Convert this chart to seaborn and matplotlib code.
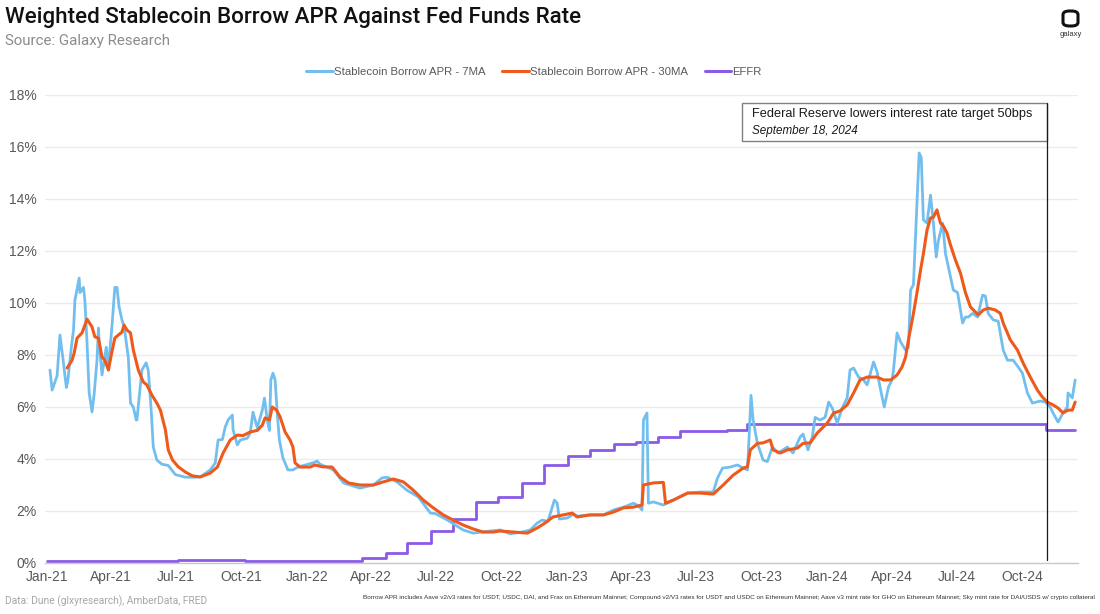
import numpy as np
import pandas as pd
import matplotlib
matplotlib.use("Agg")
import matplotlib.pyplot as plt
import matplotlib.dates as mdates
from matplotlib.ticker import FuncFormatter
from matplotlib.patches import Rectangle, FancyBboxPatch
from matplotlib.lines import Line2D
import seaborn as sns

# ---------------- data (day offsets from 2021-01-01, values in %) ----------------
blue_day = [4, 7, 11, 14, 18, 22, 27, 29, 34, 37, 39, 45, 46, 51, 53, 56, 59, 63, 66, 70,
            72, 73, 77, 83, 86, 91, 95, 98, 101, 105, 108, 114, 117, 121, 125, 126, 133, 139, 142, 146,
            149, 154, 161, 170, 180, 194, 208, 215, 229, 236, 240, 246, 250, 254, 260, 261, 267, 271, 281, 285,
            289, 295, 302, 305, 309, 312, 314, 317, 320, 323, 326, 331, 338, 345, 352, 373, 379, 383, 402, 416,
            439, 458, 470, 477, 491, 505, 521, 538, 545, 562, 584, 598, 622, 636, 650, 668, 678, 688, 695, 703,
            709, 712, 716, 719, 730, 739, 744, 762, 781, 795, 809, 823, 830, 835, 837, 842, 844, 851, 865, 879,
            899, 917, 935, 941, 948, 959, 969, 977, 983, 986, 988, 991, 997, 1005, 1011, 1018, 1026, 1039, 1047, 1057,
            1061, 1068, 1074, 1078, 1085, 1092, 1097, 1102, 1109, 1116, 1123, 1127, 1132, 1139, 1146, 1151, 1160, 1165, 1170, 1175,
            1181, 1186, 1188, 1193, 1198, 1205, 1209, 1212, 1216, 1221, 1224, 1227, 1230, 1235, 1240, 1244, 1248, 1251, 1257, 1261,
            1268, 1272, 1278, 1285, 1289, 1293, 1299, 1306, 1313, 1317, 1321, 1328, 1335, 1342, 1348, 1356, 1363, 1369, 1376, 1383,
            1394, 1401, 1408, 1412, 1419, 1426, 1432, 1433, 1439, 1443]
blue_apr = [7.42, 6.65, 6.96, 7.2, 8.77, 7.9, 6.75, 7.0, 8.3, 8.96, 10.1, 10.96, 10.4, 10.6, 10.1, 8.46, 6.54, 5.81, 6.5, 7.8,
            9.04, 8.5, 7.23, 8.3, 7.54, 9.1, 10.6, 10.6, 9.85, 9.35, 9.1, 7.9, 6.15, 6.0, 5.5, 5.5, 7.42, 7.7, 7.4, 5.9,
            4.46, 3.96, 3.8, 3.75, 3.4, 3.3, 3.3, 3.31, 3.58, 3.85, 4.73, 4.75, 5.23, 5.5, 5.69, 5.12, 4.54, 4.73, 4.8, 5.0,
            5.8, 5.2, 5.88, 6.34, 5.5, 5.1, 7.04, 7.3, 7.04, 5.77, 4.73, 4.04, 3.58, 3.58, 3.69, 3.85, 3.92, 3.8, 3.58, 3.08,
            2.88, 3.0, 3.27, 3.3, 3.12, 2.8, 2.54, 1.92, 1.9, 1.65, 1.27, 1.15, 1.23, 1.27, 1.12, 1.2, 1.27, 1.54, 1.65, 1.6,
            2.15, 2.42, 2.3, 1.69, 1.73, 1.88, 1.8, 1.85, 1.85, 2.04, 2.15, 2.3, 2.2, 2.04, 5.5, 5.77, 2.3, 2.35, 2.23, 2.42,
            2.69, 2.73, 2.73, 3.27, 3.65, 3.69, 3.77, 3.65, 3.58, 5.23, 6.45, 5.5, 4.6, 3.96, 3.9, 4.46, 4.23, 4.46, 4.23, 4.85,
            4.96, 4.35, 4.85, 5.6, 5.5, 5.6, 6.19, 5.96, 5.38, 5.96, 6.35, 7.42, 7.5, 7.15, 7.04, 6.85, 7.73, 7.35, 6.65, 6.0,
            6.77, 7.04, 7.42, 8.85, 8.5, 8.19, 8.3, 10.5, 10.7, 13.85, 15.77, 15.6, 13.2, 13.07, 14.15, 13.07, 11.77, 12.4, 13.07, 11.9,
            11.0, 10.5, 10.4, 9.23, 9.46, 9.46, 9.6, 9.46, 10.3, 10.27, 9.6, 9.35, 9.3, 8.19, 7.8, 7.8, 7.54, 7.3, 6.54, 6.15,
            6.23, 6.19, 6.0, 5.77, 5.42, 5.77, 6.0, 6.54, 6.35, 7.04]

orange_day = [28, 35, 38, 42, 49, 56, 63, 67, 72, 77, 81, 86, 90, 95, 100, 105, 108, 112, 117, 121,
              128, 135, 140, 147, 154, 159, 166, 170, 176, 184, 194, 204, 215, 229, 239, 247, 257, 267, 275, 285,
              295, 302, 306, 312, 316, 322, 327, 334, 341, 345, 348, 355, 369, 376, 386, 400, 411, 423, 439, 458,
              472, 486, 500, 514, 528, 542, 556, 570, 584, 598, 612, 626, 636, 655, 674, 688, 699, 710, 724, 737,
              744, 762, 781, 795, 809, 823, 835, 837, 851, 865, 868, 879, 899, 917, 935, 949, 963, 977, 983, 987,
              997, 1005, 1015, 1019, 1029, 1039, 1053, 1061, 1071, 1081, 1095, 1104, 1113, 1123, 1132, 1141, 1151, 1165, 1174, 1184,
              1193, 1200, 1205, 1209, 1216, 1221, 1226, 1230, 1235, 1240, 1244, 1249, 1254, 1258, 1263, 1268, 1275, 1282, 1289, 1296,
              1303, 1307, 1314, 1321, 1331, 1338, 1342, 1352, 1362, 1370, 1380, 1390, 1397, 1404, 1412, 1419, 1426, 1433, 1439, 1443]
orange_apr = [7.5, 7.8, 8.08, 8.65, 8.85, 9.38, 9.08, 8.7, 8.65, 7.92, 7.8, 7.42, 8.0, 8.65, 8.77, 8.88, 9.15, 8.96, 8.85, 8.19,
              7.42, 6.96, 6.85, 6.46, 6.15, 5.88, 5.12, 4.35, 3.96, 3.7, 3.5, 3.35, 3.31, 3.46, 3.69, 4.23, 4.73, 4.92, 4.9, 5.04,
              5.1, 5.3, 5.58, 5.5, 6.0, 5.88, 5.62, 5.04, 4.73, 4.46, 3.85, 3.69, 3.69, 3.77, 3.7, 3.69, 3.31, 3.08, 3.0, 3.0,
              3.12, 3.23, 3.12, 2.8, 2.42, 2.12, 1.85, 1.65, 1.46, 1.31, 1.19, 1.19, 1.23, 1.19, 1.15, 1.35, 1.54, 1.77, 1.85, 1.92,
              1.77, 1.85, 1.85, 1.96, 2.12, 2.15, 2.23, 3.0, 3.08, 3.1, 2.3, 2.42, 2.69, 2.69, 2.65, 3.0, 3.38, 3.65, 3.7, 4.35,
              4.6, 4.62, 4.73, 4.35, 4.23, 4.35, 4.42, 4.6, 4.62, 5.0, 5.38, 5.77, 5.85, 6.08, 6.54, 7.04, 7.15, 7.15, 7.04, 7.04,
              7.23, 7.54, 7.92, 8.58, 9.6, 10.4, 11.27, 11.9, 12.8, 13.27, 13.3, 13.58, 13.07, 12.96, 12.7, 12.23, 11.65, 11.15, 10.4, 9.85,
              9.65, 9.54, 9.73, 9.8, 9.73, 9.6, 9.23, 8.58, 8.19, 7.69, 7.15, 6.65, 6.38, 6.19, 6.08, 5.96, 5.77, 5.88, 5.88, 6.19]

effr_day = [0, 93, 184, 278, 442, 475, 505, 539, 570, 602, 633, 667, 698, 731, 762, 795, 826, 858, 889, 920, 954, 983, 1402, 1443]
effr_rate = [0.09, 0.07, 0.10, 0.08, 0.20, 0.37, 0.78, 1.23, 1.68, 2.33, 2.55, 3.08, 3.78, 4.10, 4.33, 4.57, 4.65, 4.83, 5.06, 5.08, 5.12, 5.33, 5.13, 5.13]

event_day = 1403
event_title = "Federal Reserve lowers interest rate target 50bps"
event_date_label = "September 18, 2024"

tick_dates = ["2021-01-01", "2021-04-01", "2021-07-01", "2021-10-01", "2022-01-01", "2022-04-01",
              "2022-07-01", "2022-10-01", "2023-01-01", "2023-04-01", "2023-07-01", "2023-10-01",
              "2024-01-01", "2024-04-01", "2024-07-01", "2024-10-01"]
y_ticks = [0, 2, 4, 6, 8, 10, 12, 14, 16, 18]

series_names = ["Stablecoin Borrow APR - 7MA", "Stablecoin Borrow APR - 30MA", "EFFR"]
colors = ["#72BFEF", "#EE5A1C", "#8B5BE8"]

title = "Weighted Stablecoin Borrow APR Against Fed Funds Rate"
subtitle = "Source: Galaxy Research"
footer_left = "Data: Dune (glxyresearch), AmberData, FRED"
footer_right = ("Borrow APR includes Aave v2/v3 rates for USDT, USDC, DAI, and Frax on Ethereum Mainnet; "
                "Compound v2/V3 rates for USDT and USDC on Ethereum Mainnet; Aave v3 mint rate for GHO on "
                "Ethereum Mainnet; Sky mint rate for DAI/USDS w/ crypto collateral")

# ---------------- build ----------------
start = pd.Timestamp("2021-01-01")
def to_date(days):
    return start + pd.to_timedelta(np.asarray(days), unit="D")

df_blue = pd.DataFrame({"date": to_date(blue_day), "apr": blue_apr})
df_orange = pd.DataFrame({"date": to_date(orange_day), "apr": orange_apr})
df_effr = pd.DataFrame({"date": to_date(effr_day), "apr": effr_rate})

sns.set_theme(style="white")
plt.rcParams["font.family"] = ["Liberation Sans", "DejaVu Sans"]

fig = plt.figure(figsize=(11, 6.14), dpi=100)
W, H = 1100, 614
ax = fig.add_axes([45 / W, 1 - 563 / H, (1078 - 45) / W, (563 - 95) / H])

sns.lineplot(data=df_effr, x="date", y="apr", ax=ax, color=colors[2], lw=2.0,
             drawstyle="steps-post", estimator=None, sort=False, zorder=2)
sns.lineplot(data=df_blue, x="date", y="apr", ax=ax, color=colors[0], lw=2.0,
             estimator=None, sort=False, zorder=3)
sns.lineplot(data=df_orange, x="date", y="apr", ax=ax, color=colors[1], lw=2.2,
             estimator=None, sort=False, zorder=4)

ax.set_ylim(0, 18)
ax.set_xlim(to_date([-3])[0], to_date([1447])[0])
ax.set_yticks(y_ticks)
ax.yaxis.set_major_formatter(FuncFormatter(lambda v, p: f"{v:.0f}%"))
ax.set_xticks(pd.to_datetime(tick_dates))
ax.xaxis.set_major_formatter(mdates.DateFormatter("%b-%y"))
ax.set_xlabel("")
ax.set_ylabel("")
ax.grid(axis="y", color="#EBEBEB", lw=1.0)
ax.grid(axis="x", visible=False)
for s in ["left", "right", "top"]:
    ax.spines[s].set_visible(False)
ax.spines["bottom"].set_color("#C8C8C8")
ax.spines["bottom"].set_linewidth(1.0)
ax.tick_params(axis="both", length=0, labelsize=10, labelcolor="#595959")
ax.tick_params(axis="y", pad=6)
ax.tick_params(axis="x", pad=5)

# event annotation
ev = to_date([event_day])[0]
box_left = to_date([event_day - 427])[0]
ax.plot([ev, ev], [0.12, 17.69], color="#1A1A1A", lw=0.9, zorder=6)
ax.add_patch(Rectangle((mdates.date2num(box_left), 16.23),
                       mdates.date2num(ev) - mdates.date2num(box_left), 17.69 - 16.23,
                       facecolor="white", edgecolor="#808080", lw=1.0, zorder=5))
tx = to_date([event_day - 414])[0]
ax.text(tx, 17.25, event_title, fontsize=9.2, color="#1A1A1A", va="center", ha="left", zorder=7)
ax.text(tx, 16.62, event_date_label, fontsize=8.4, style="italic", color="#1A1A1A",
        va="center", ha="left", zorder=7)

# legend
handles = [Line2D([0], [0], color=c, lw=2.2) for c in colors]
leg = fig.legend(handles, series_names, loc="center", bbox_to_anchor=(534 / W, 1 - 72 / H),
                 ncol=3, frameon=False, fontsize=8.2, handlelength=2.3, handletextpad=0.1,
                 columnspacing=1.5)
for t in leg.get_texts():
    t.set_color("#595959")

# titles
fig.text(5 / W, 1 - 18 / H, title, fontsize=16.1, color="#111111", va="center", ha="left",
         family=["Roboto", "DejaVu Sans"], fontweight="medium")
fig.text(5 / W, 1 - 41 / H, subtitle, fontsize=10.9, color="#8C8C8C", va="center", ha="left",
         family=["Roboto", "DejaVu Sans"])
fig.text(5 / W, 1 - 601 / H, footer_left, fontsize=7.4, color="#A6A6A6", va="center", ha="left",
         family=["Roboto", "DejaVu Sans"])
fig.text(1095 / W, 1 - 598 / H, footer_right, fontsize=4.6, color="#333333", va="center", ha="right",
         family=["Liberation Sans Narrow", "Liberation Sans", "DejaVu Sans"])

# logo
logo = FancyBboxPatch((1063 / W, 1 - 26 / H), 15 / W, 15 / H,
                      boxstyle="round,pad=0,rounding_size=0.006", transform=fig.transFigure,
                      facecolor="none", edgecolor="#111111", lw=2.2)
fig.patches.append(logo)
fig.text(1070.5 / W, 1 - 34 / H, "galaxy", fontsize=5.5, color="#333333", ha="center", va="center")

fig.savefig("out.png", dpi=100)
